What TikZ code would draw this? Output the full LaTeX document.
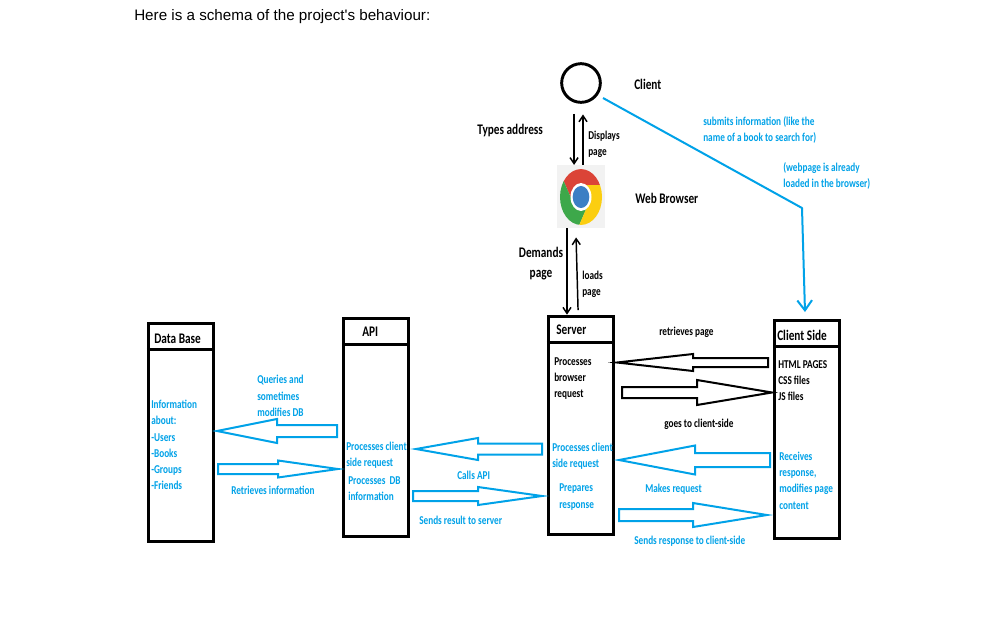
\documentclass[tikz,border=0pt]{standalone}
\usepackage{fontspec}
\usepackage{xcolor}
\setmainfont{Carlito}[FakeStretch=0.77]
\newfontfamily\headfont{Liberation Sans}
\usetikzlibrary{arrows.meta}
\definecolor{paintblue}{RGB}{0,162,232}
\definecolor{chromered}{RGB}{219,68,55}
\definecolor{chromegreen}{RGB}{61,168,74}
\definecolor{chromeyellow}{RGB}{251,206,16}
\definecolor{chromeblue}{RGB}{60,127,196}
\tikzset{
	lbl/.style={anchor=west,inner sep=0pt,align=left,font=\fontsize{9}{12.2}\selectfont\bfseries},
	biglbl/.style={lbl,font=\fontsize{11}{15.5}\selectfont\bfseries},
	bluelbl/.style={lbl,text=paintblue},
	tier/.style={draw,line width=2.2pt,minimum width=49pt,minimum height=164pt,inner sep=0pt},
	thinarrow/.style={-{Straight Barb[length=4.5pt,width=6pt]},line width=1.1pt},
}
% block arrow: colour, tail x, neck x, tip x, y, half shaft, half head
\newcommand{\flatarrow}[7]{
	\draw[#1,line width=1.5pt,line join=miter] (#2,#5-#6)--(#3,#5-#6)--(#3,#5-#7)--(#4,#5)--(#3,#5+#7)--(#3,#5+#6)--(#2,#5+#6)--cycle;
}
\begin{document}
\begin{tikzpicture}[x=0.75pt,y=-0.75pt]
	\useasboundingbox[fill=white] (0,0) rectangle (1000,626);

	\node[anchor=west,inner sep=0pt,font=\fontsize{11.4}{14}\headfont] (heading) at (134,17) {Here is a schema of the project's behaviour:};

	% client and browser
	\node[draw,circle,line width=2.2pt,minimum size=29pt,inner sep=0pt] (client) at (581,83) {};
	\node[fill=black!5,minimum width=36pt,minimum height=47pt,inner sep=0pt] (browser) at (581,196.5) {};
	\begin{scope}[shift={(581,197)},yscale=1.33,x=0.75pt,y=0.75pt]
		\begin{scope}
			\clip (0,0) circle (21);
			\foreach \ang/\col in {0/chromered,120/chromegreen,240/chromeyellow}{
				\fill[\col,rotate=\ang] (0,0)--(0,9)--(40,9)--(40,50)--(-27.8,50)--(-27.8,30.1)--(-7.8,-4.5)--cycle;
			}
		\end{scope}
		\fill[white] (0,0) circle (10.5);
		\fill[chromeblue] (0,0) circle (8.3);
	\end{scope}

	% the four tiers
	\node[tier] (database) at (181,432.5) {};
	\node[tier] (api) at (376,427.5) {};
	\node[tier] (server) at (581,425.5) {};
	\node[tier] (clientside) at (807,429.5) {};
	\draw[line width=2.2pt] ([yshift=-21pt]database.north west)--([yshift=-21pt]database.north east);
	\draw[line width=2.2pt] ([yshift=-21pt]api.north west)--([yshift=-21pt]api.north east);
	\draw[line width=2.2pt] ([yshift=-21pt]server.north west)--([yshift=-21pt]server.north east);
	\draw[line width=2.2pt] ([yshift=-21pt]clientside.north west)--([yshift=-21pt]clientside.north east);

	\node[biglbl] (clientlbl) at (634,84) {Client};
	\node[biglbl] (typeslbl) at (477,131) {Types address};
	\node[biglbl] (browserlbl) at (635,198) {Web Browser};
	\node[biglbl,align=center,anchor=center] (demandslbl) at (541,263.5) {Demands\\page};
	\node[lbl] (displayslbl) at (588,144) {Displays\\page};
	\node[lbl] (loadslbl) at (582,284) {loads\\page};

	\node[biglbl] (dbtitle) at (154,339) {Data Base};
	\node[biglbl] (apititle) at (362,332) {API};
	\node[biglbl] (servertitle) at (556,330) {Server};
	\node[biglbl] (cstitle) at (777,335) {Client Side};

	% black arrows
	\draw[thinarrow] ([xshift=-5.2pt,yshift=-7.5pt]client.south)--([xshift=-5.2pt]browser.north);
	\draw[thinarrow] ([xshift=1.5pt]browser.north)--([xshift=1.5pt,yshift=-8pt]client.south);
	\draw[thinarrow] ([xshift=-10.5pt]browser.south)--([xshift=-10.5pt]server.north);
	\draw[thinarrow] ([xshift=-2.2pt,yshift=3.5pt]server.north)--([xshift=-3.7pt,yshift=-7pt]browser.south);

	% line from the client to the client side
	\coordinate (submitstart) at (603,98);
	\coordinate (submitbend) at (802,208);
	\draw[paintblue,line width=1.5pt,line join=round,-{Straight Barb[length=7.5pt,width=11pt]}] (submitstart)--(submitbend)--([xshift=-1.5pt,yshift=5pt]clientside.north);
	\node[bluelbl] (submitslbl) at (703,130) {submits information (like the\\name of a book to search for)};
	\node[bluelbl] (loadedlbl) at (783,176) {(webpage is already\\loaded in the browser)};

	% block arrows
	\flatarrow{black}{768}{693}{617}{362.5}{4.5}{8.5}
	\flatarrow{black}{622}{697}{772}{392.5}{5.5}{12.5}
	\flatarrow{paintblue}{770}{695}{619}{460}{7}{14.5}
	\flatarrow{paintblue}{619}{693}{767}{515}{6}{12}
	\flatarrow{paintblue}{542}{478}{416}{449}{5.5}{11}
	\flatarrow{paintblue}{413}{478}{542}{496}{5}{9}
	\flatarrow{paintblue}{337}{277}{217}{431}{6}{12}
	\flatarrow{paintblue}{218}{278}{338}{469}{5}{8.5}

	% texts between and in the tiers
	\node[bluelbl] (infolbl) at (151,445) {Information\\about:\\-Users\\-Books\\-Groups\\-Friends};
	\node[bluelbl] (querieslbl) at (257,396) {Queries and\\sometimes\\modifies DB};
	\node[bluelbl] (retrieveslbl) at (231,490) {Retrieves information};
	\node[bluelbl] (apireqlbl) at (346,455) {Processes client\\side request};
	\node[bluelbl] (apidblbl) at (348,489) {Processes\, DB\\information};
	\node[bluelbl] (callslbl) at (457,475) {Calls API};
	\node[bluelbl] (sendslbl) at (419,520) {Sends result to server};
	\node[lbl] (browserreqlbl) at (554,378.5) {Processes\\browser\\request};
	\node[bluelbl] (serverreqlbl) at (552,456) {Processes client\\side request};
	\node[bluelbl] (prepareslbl) at (559,497) {Prepares\\response};
	\node[lbl] (pagelbl) at (659,332) {retrieves page};
	\node[lbl] (goeslbl) at (664,424) {goes to client-side};
	\node[bluelbl] (makeslbl) at (645,489) {Makes request};
	\node[bluelbl] (responselbl) at (634,541) {Sends response to client-side};
	\node[lbl] (fileslbl) at (778,380.5) {HTML PAGES\\CSS files\\JS files};
	\node[bluelbl] (receiveslbl) at (779,480.5) {Receives\\response,\\modifies page\\content};
\end{tikzpicture}
\end{document}
